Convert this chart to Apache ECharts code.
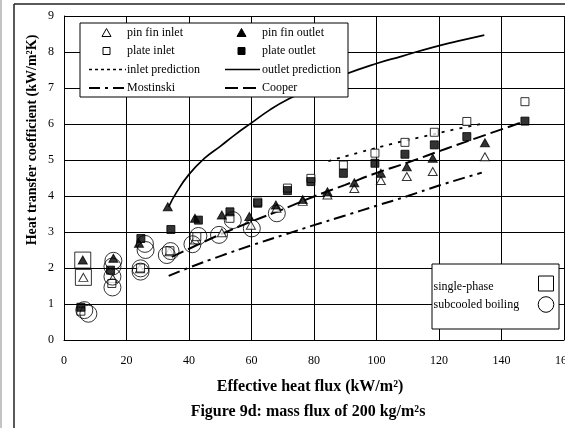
<!DOCTYPE html>
<html><head><meta charset="utf-8">
<script src="https://cdn.jsdelivr.net/npm/echarts@6/dist/echarts.min.js"></script>
<style>html,body{margin:0;padding:0;background:#fff}#c{width:565px;height:428px}</style>
</head><body><div id="c"></div>
<script>
// ---- data ----
const xMin = 0, xMax = 160, xStep = 20;
const yMin = 0, yMax = 9, yStep = 1;
const xTitle = 'Effective heat flux (kW/m²)';
const yTitle = 'Heat transfer coefficient (kW/m²K)';
const caption = 'Figure 9d: mass flux of 200 kg/m²s';

const pinFinInlet = [[6.2,1.74],[15.6,1.71],[24.3,1.98],[33.7,2.45],[41.9,2.78],[50.5,2.98],[59.8,3.19],[68,3.66],[76.4,3.85],[84.3,4.03],[92.9,4.21],[101.4,4.43],[109.7,4.54],[118,4.68],[134.7,5.09]];
const pinFinOutlet = [[6.0,2.22],[15.8,2.27],[24.0,2.69],[33.2,3.7],[41.9,3.38],[50.5,3.47],[59.3,3.43],[67.8,3.75],[76.4,3.9],[84.3,4.12],[92.9,4.37],[101.4,4.63],[109.7,4.81],[118,5.05],[134.7,5.48]];
const plateInlet = [[5.4,0.8],[15.3,1.57],[24.5,2.0],[33.9,2.48],[42.5,2.87],[53.1,3.38],[62,3.83],[71.5,4.22],[79,4.49],[89.4,4.86],[99.5,5.19],[109.1,5.49],[118.5,5.77],[128.9,6.07],[147.5,6.62]];
const plateOutlet = [[5.4,0.91],[14.9,1.94],[24.6,2.82],[34.2,3.07],[43,3.33],[53.1,3.56],[62,3.8],[71.5,4.15],[79,4.4],[89.4,4.63],[99.5,4.91],[109.1,5.16],[118.5,5.42],[128.9,5.65],[147.5,6.08]];
const singlePhase = [[6.0,2.22],[6.2,1.74]];
const subcooledBoiling = [[6.5,0.83],[7.8,0.73],[15.8,2.2],[15.5,2.04],[15.5,1.76],[15.5,1.46],[24.5,1.99],[24.5,1.9],[25.9,2.67],[26.1,2.5],[32.9,2.36],[34.1,2.47],[41.1,2.66],[43,2.89],[49.6,2.92],[54,3.33],[60.1,3.1],[68.1,3.52]];
const inletPrediction = [[84.6,4.97],[95,5.22],[105,5.45],[115,5.65],[125,5.85],[134.7,6.02]];
const outletPrediction = [[33.5,3.7],[36,4.1],[40,4.6],[45,5.05],[50,5.38],[55,5.72],[60,6.03],[66,6.4],[72,6.7],[80,7.02],[90,7.38],[100,7.68],[108,7.88],[118,8.13],[126,8.3],[134.5,8.47]];
const mostinski = [[33.5,1.78],[40,2.01],[50,2.33],[60,2.63],[70,2.91],[80,3.19],[90,3.46],[100,3.73],[110,4.0],[120,4.29],[133.7,4.65]];
const cooper = [[34.5,2.31],[41.4,2.59],[50,2.93],[60,3.29],[70,3.63],[79.8,3.98],[90,4.31],[100,4.64],[110,4.93],[122.5,5.32],[135,5.7],[147,6.06]];
const legendTop = ['pin fin inlet','pin fin outlet','plate inlet','plate outlet','inlet prediction','outlet prediction','Mostinski','Cooper'];
const legendRegime = ['single-phase','subcooled boiling'];

// ---- chart ----
const FF = '"Liberation Serif", "Times New Roman", serif';
const chart = echarts.init(document.getElementById('c'), null, {renderer:'canvas'});
const open = {color:'#fff', borderColor:'#000', borderWidth:1};
const filled = {color:'#000', borderColor:'#000', borderWidth:1};
const hollow = {color:'rgba(0,0,0,0)', borderColor:'#000', borderWidth:1};
function lineSeries(name, data, type, width, smooth){
  return {name, type:'line', data, showSymbol:false, symbol:'none', smooth: smooth||false,
    lineStyle:{color:'#000', width, type}, z:2, silent:true};
}
const txt = (t, x, y, extra) => Object.assign({type:'text', style:{text:t, x, y, font:'12px '+FF, fill:'#000', align:'left', verticalAlign:'middle'}}, extra||{});
const L1 = 80, L2 = 348, LT = 23, LB = 97;
const rows = [32.5, 51, 69.5, 88];
const c1s = 106.5, c1t = 127, c2s = 241.5, c2t = 262;
const graphics = [
  // page frame
  {type:'line', shape:{x1:14,y1:4,x2:14,y2:428}, style:{stroke:'#222', lineWidth:1.5}},
  {type:'line', shape:{x1:14,y1:4,x2:565,y2:4}, style:{stroke:'#222', lineWidth:1.5}},
  {type:'line', shape:{x1:1,y1:0,x2:1,y2:428}, style:{stroke:'#888', lineWidth:1}},
  // titles
  {type:'text', x:32, y:140, rotation:Math.PI/2, style:{text:yTitle, x:0, y:0, font:'bold 14px '+FF, fill:'#000', align:'center', verticalAlign:'middle'}},
  {type:'text', style:{text:xTitle, x:310, y:387, font:'bold 16px '+FF, fill:'#000', align:'center', verticalAlign:'middle'}},
  {type:'text', style:{text:caption, x:308, y:411.5, font:'bold 16px '+FF, fill:'#000', align:'center', verticalAlign:'middle'}},
  // top legend
  {type:'rect', shape:{x:L1, y:LT, width:L2-L1, height:LB-LT}, style:{fill:'#fff', stroke:'#000', lineWidth:1}, z:10},
  {type:'polygon', shape:{points:[[c1s-4.5,rows[0]+4],[c1s+4.5,rows[0]+4],[c1s,rows[0]-4]]}, style:{fill:'#fff', stroke:'#000', lineWidth:1}, z:11},
  {type:'polygon', shape:{points:[[c2s-4.5,rows[0]+4],[c2s+4.5,rows[0]+4],[c2s,rows[0]-4]]}, style:{fill:'#000', stroke:'#000', lineWidth:1}, z:11},
  {type:'rect', shape:{x:c1s-3.5, y:rows[1]-3.5, width:7, height:7}, style:{fill:'#fff', stroke:'#000', lineWidth:1}, z:11},
  {type:'rect', shape:{x:c2s-3.5, y:rows[1]-3.5, width:7, height:7}, style:{fill:'#000', stroke:'#000', lineWidth:1}, z:11},
  {type:'line', shape:{x1:89, y1:rows[2], x2:126, y2:rows[2]}, style:{stroke:'#000', lineWidth:1.5, lineDash:[3,3]}, z:11},
  {type:'line', shape:{x1:225, y1:rows[2], x2:260, y2:rows[2]}, style:{stroke:'#000', lineWidth:1.5}, z:11},
  {type:'line', shape:{x1:89, y1:rows[3], x2:126, y2:rows[3]}, style:{stroke:'#000', lineWidth:2, lineDash:[11,5,3,5]}, z:11},
  {type:'line', shape:{x1:225, y1:rows[3], x2:260, y2:rows[3]}, style:{stroke:'#000', lineWidth:2, lineDash:[13,5]}, z:11},
  txt(legendTop[0], c1t, rows[0], {z:11}), txt(legendTop[1], c2t, rows[0], {z:11}),
  txt(legendTop[2], c1t, rows[1], {z:11}), txt(legendTop[3], c2t, rows[1], {z:11}),
  txt(legendTop[4], c1t, rows[2], {z:11}), txt(legendTop[5], c2t, rows[2], {z:11}),
  txt(legendTop[6], c1t, rows[3], {z:11}), txt(legendTop[7], c2t, rows[3], {z:11}),
  // regime legend
  {type:'rect', shape:{x:432, y:264, width:127, height:65}, style:{fill:'#fff', stroke:'#000', lineWidth:1}, z:10},
  txt(legendRegime[0], 433.5, 286.5, {z:11}), txt(legendRegime[1], 433.5, 305, {z:11}),
  {type:'rect', shape:{x:538.5, y:276, width:15, height:15}, style:{fill:'none', stroke:'#000', lineWidth:1}, z:11},
  {type:'circle', shape:{cx:546, cy:304.5, r:7.8}, style:{fill:'none', stroke:'#000', lineWidth:1}, z:11}
];
const option = {
  animation:false,
  backgroundColor:'#fff',
  grid:{left:64, right:1, top:16, bottom:88, containLabel:false, outerBoundsMode:'none'},
  xAxis:{type:'value', min:xMin, max:xMax, interval:xStep,
    axisLine:{show:true, onZero:false, lineStyle:{color:'#000', width:1}}, axisTick:{show:false},
    axisLabel:{color:'#000', fontFamily:FF, fontSize:12, margin:15, showMaxLabel:true, showMinLabel:true},
    splitLine:{show:true, lineStyle:{color:'#000', width:1}}},
  yAxis:{type:'value', min:yMin, max:yMax, interval:yStep,
    axisLine:{show:true, onZero:false, lineStyle:{color:'#000', width:1}}, axisTick:{show:false},
    axisLabel:{color:'#000', fontFamily:FF, fontSize:12, margin:10},
    splitLine:{show:true, lineStyle:{color:'#000', width:1}}},
  graphic: graphics,
  series:[
    lineSeries('inlet prediction', inletPrediction, [3,6], 1.8, true),
    lineSeries('outlet prediction', outletPrediction, 'solid', 1.7, true),
    lineSeries('Mostinski', mostinski, [12,5,3,5], 2, true),
    lineSeries('Cooper', cooper, [13,5], 2, true),
    {name:'pin fin inlet', type:'scatter', data:pinFinInlet, symbol:'triangle', symbolSize:[9,8], itemStyle:open, z:3},
    {name:'plate inlet', type:'scatter', data:plateInlet, symbol:'rect', symbolSize:8, itemStyle:open, z:3},
    {name:'pin fin outlet', type:'scatter', data:pinFinOutlet, symbol:'triangle', symbolSize:[9,8], itemStyle:filled, z:4},
    {name:'plate outlet', type:'scatter', data:plateOutlet, symbol:'rect', symbolSize:8, itemStyle:filled, z:4},
    {name:'single-phase', type:'scatter', data:singlePhase, symbol:'rect', symbolSize:16, itemStyle:hollow, z:5},
    {name:'subcooled boiling', type:'scatter', data:subcooledBoiling, symbol:'circle', symbolSize:17, itemStyle:hollow, z:5}
  ]
};
chart.setOption(option);
</script></body></html>
